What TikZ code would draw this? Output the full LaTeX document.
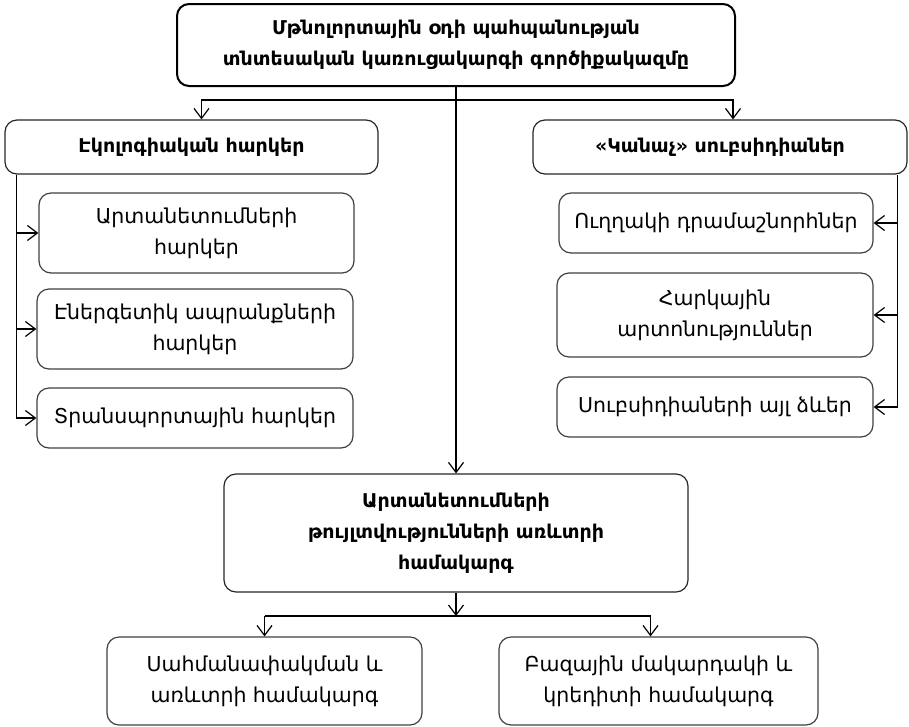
\documentclass[tikz,border=0pt]{standalone}
\usepackage{fontspec}
\setmainfont{DejaVu Sans}
\usetikzlibrary{positioning,arrows.meta}

\begin{document}
\begin{tikzpicture}[
  x=1pt, y=-1pt,
  box/.style={draw=black!75, line width=1.2pt, rounded corners=12pt, align=center, inner sep=0pt,
    font=\fontsize{20.5pt}{31pt}\selectfont},
  head/.style={box, draw=black!85, font=\fontsize{19pt}{31pt}\selectfont\bfseries},
  arr/.style={-{Straight Barb[length=10pt,width=15pt]}, line width=1.2pt}
]
  \useasboundingbox (0,0) rectangle (909,726);

  \node (top) [head, draw=black, line width=2pt, minimum width=558pt, minimum height=82pt] at (456,45)
    {Մթնոլորտային օդի պահպանության\\տնտեսական կառուցակարգի գործիքակազմը};

  \node (ecol) [head, minimum width=373pt, minimum height=54pt] at (191.5,147) {Էկոլոգիական հարկեր};
  \node (green) [head, minimum width=374pt, minimum height=54pt] at (720,147) {«Կանաչ» սուբսիդիաներ};

  \node (l1) [box, minimum width=315pt, minimum height=80pt] at (196.5,233) {Արտանետումների\\հարկեր};
  \node (l2) [box, minimum width=316pt, minimum height=80pt] at (195,329) {Էներգետիկ ապրանքների\\հարկեր};
  \node (l3) [box, minimum width=316pt, minimum height=60pt] at (195,418) {Տրանսպորտային հարկեր};

  \node (r1) [box, minimum width=314pt, minimum height=60pt] at (716,223) {Ուղղակի դրամաշնորհներ};
  \node (r2) [box, minimum width=316pt, minimum height=84pt] at (715,315) {Հարկային\\արտոնություններ};
  \node (r3) [box, minimum width=316pt, minimum height=60pt] at (715,407) {Սուբսիդիաների այլ ձևեր};

  \node (mid) [head, minimum width=464pt, minimum height=118pt] at (456,533)
    {Արտանետումների\\թույլտվությունների առևտրի\\համակարգ};

  \node (b1) [box, minimum width=315pt, minimum height=88pt] at (264.5,681) {Սահմանափակման և\\առևտրի համակարգ};
  \node (b2) [box, minimum width=319pt, minimum height=88pt] at (658.5,681) {Բազային մակարդակի և\\կրեդիտի համակարգ};

  \coordinate (split) at (456,100);
  \coordinate (lrail) at ([xshift=12pt]ecol.south west);
  \coordinate (rrail) at ([xshift=-10pt]green.south east);
  \coordinate (join) at (456,616);

  \draw [arr] (top) -- (mid);
  \draw [arr] (split) -| ([xshift=10pt]ecol.north);
  \draw [arr] (split) -| ([xshift=13pt]green.north);

  \draw [arr] (lrail) |- (l3);
  \draw [arr] (lrail |- l1) -- (l1);
  \draw [arr] (lrail |- l2) -- (l2);

  \draw [arr] (rrail) |- (r3);
  \draw [arr] (rrail |- r1) -- (r1);
  \draw [arr] (rrail |- r2) -- (r2);

  \draw [arr] (mid) -- (join);
  \draw [line width=1.2pt] (join -| b1) -- ([xshift=-8pt]join -| b2);
  \draw [arr] (join -| b1) -- (b1);
  \draw [arr] ([xshift=-8pt]join -| b2) -- ([xshift=-8pt]b2.north);
\end{tikzpicture}
\end{document}
